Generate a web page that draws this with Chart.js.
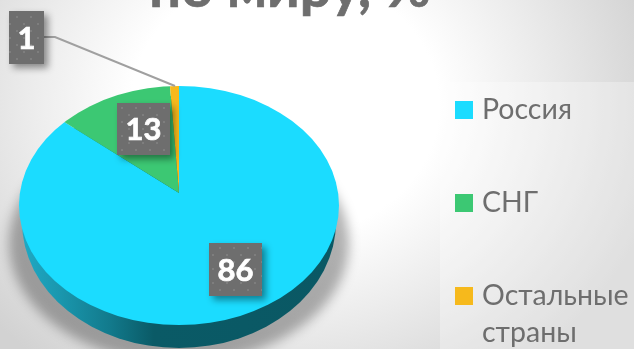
<!DOCTYPE html>
<html lang="ru">
<head>
<meta charset="utf-8">
<title>по миру, %</title>
<script src="https://cdn.jsdelivr.net/npm/chart.js@4"></script>
<style>
    html, body { margin: 0; padding: 0; }
    body {
        position: relative; width: 634px; height: 349px; overflow: hidden;
        font-family: Lato, sans-serif; color: #6e6e6e;
        background: radial-gradient(ellipse 385px 330px at 285px 105px, #fff 40%, #ececec 66%, #d2d2d2 100%);
    }
    canvas { position: absolute; left: 0; top: 0; }
    #title {
        position: absolute; left: 0; width: 580px; top: -49px; text-align: center;
        font-size: 56px; font-weight: 700; line-height: 70px; white-space: nowrap;
        -webkit-text-stroke: 0.7px #6e6e6e;
    }
    #panel { position: absolute; left: 440px; top: 82px; right: 0; bottom: 0; background: rgba(255,255,255,.3); }
    .item { position: absolute; left: 455px; }
    .item i { position: absolute; left: 0; top: 0; width: 18px; height: 18px; }
    .item span { position: absolute; left: 27px; top: -11px; font-size: 28.5px; line-height: 37px; white-space: nowrap; }
</style>
</head>
<body>
<div id="panel"></div>
<div id="title"></div>
<canvas id="chart" width="634" height="349"></canvas>
<div id="legend"></div>
<script>
const titleText = 'по миру, %';
const categories = ['Россия', 'СНГ', 'Остальные\nстраны'];
const values = [86, 13, 1];
const colors = ['#1bdcff', '#3cc873', '#f6b91c'];

// позиции подписей и легенды
const labelBoxes = [[209, 243, 53, 53], [117, 103, 53, 52], [9, 11, 35, 53]];
const legendTops = [101, 194, 287];

const apex = { x: 179, y: 193 };
const squash = 0.747;
const face = { x: 179, y: 205.5, rx: 160, ry: 119.5 };
const base = { x: 179, y: 222, rx: 157, ry: 126 };

document.getElementById('title').textContent = titleText;

const legend = document.getElementById('legend');
categories.forEach((name, i) => {
    const item = document.createElement('div');
    item.className = 'item';
    item.style.top = legendTops[i] + 'px';
    item.innerHTML = `<i style="background:${colors[i]}"></i><span>${name.replace('\n', '<br>')}</span>`;
    legend.appendChild(item);
});

function dotPattern(ctx) {
    const tile = document.createElement('canvas');
    tile.width = 14;
    tile.height = 14;
    const t = tile.getContext('2d');
    t.fillStyle = '#6e6e6e';
    t.fillRect(0, 0, 14, 14);
    t.fillStyle = '#7e7e7e';
    t.fillRect(2, 2, 2, 2);
    t.fillRect(9, 9, 2, 2);
    return ctx.createPattern(tile, 'repeat');
}

// объём круга: тень и боковая стенка, верх обрезается эллипсом
const pie3d = {
    id: 'pie3d',
    beforeDatasetsDraw(chart) {
        const ctx = chart.ctx;
        ctx.save();
        ctx.filter = 'blur(6px)';
        ctx.fillStyle = 'rgba(0,0,0,.3)';
        ctx.beginPath();
        ctx.ellipse(179, 243, 170, 120, 0, 0, Math.PI * 2);
        ctx.fill();
        ctx.restore();

        const side = ctx.createLinearGradient(22, 0, 336, 0);
        side.addColorStop(0, '#1fa9c4');
        side.addColorStop(0.12, '#1a97ae');
        side.addColorStop(0.28, '#127a8c');
        side.addColorStop(0.42, '#0a5a66');
        side.addColorStop(1, '#0a5864');
        ctx.fillStyle = side;
        ctx.beginPath();
        ctx.ellipse(base.x, base.y, base.rx, base.ry, 0, 0, Math.PI * 2);
        ctx.fill();

        ctx.save();
        ctx.beginPath();
        ctx.ellipse(face.x, face.y, face.rx, face.ry, 0, 0, Math.PI * 2);
        ctx.clip();
        ctx.translate(apex.x, apex.y);
        ctx.scale(1, squash);
        ctx.translate(-apex.x, -apex.y);
    },
    afterDatasetsDraw(chart) {
        const ctx = chart.ctx;
        ctx.restore();

        // выноска к сектору 1
        ctx.strokeStyle = '#a0a0a0';
        ctx.lineWidth = 2;
        ctx.beginPath();
        ctx.moveTo(44, 37);
        ctx.lineTo(55, 37);
        ctx.lineTo(175, 86);
        ctx.stroke();

        const pattern = dotPattern(ctx);
        values.forEach((value, i) => {
            const [x, y, w, h] = labelBoxes[i];
            ctx.save();
            ctx.shadowColor = 'rgba(0,0,0,.42)';
            ctx.shadowBlur = 7;
            ctx.shadowOffsetX = 4;
            ctx.shadowOffsetY = 4;
            ctx.fillStyle = pattern;
            ctx.fillRect(x, y, w, h);
            ctx.restore();
            ctx.fillStyle = '#fff';
            ctx.strokeStyle = '#fff';
            ctx.lineWidth = 0.7;
            ctx.font = '700 31px Lato, sans-serif';
            ctx.textAlign = 'center';
            ctx.textBaseline = 'middle';
            ctx.fillText(String(value), x + w / 2, y + h / 2 + 1);
            ctx.strokeText(String(value), x + w / 2, y + h / 2 + 1);
        });
    }
};

new Chart(document.getElementById('chart').getContext('2d'), {
    type: 'pie',
    data: {
        labels: categories,
        datasets: [{
            data: values,
            backgroundColor: colors,
            borderWidth: 0,
            radius: 240
        }]
    },
    options: {
        responsive: false,
        animation: false,
        layout: { padding: { top: 37, right: 276 } },
        plugins: {
            legend: { display: false },
            tooltip: { enabled: false }
        }
    },
    plugins: [pie3d]
});
</script>
</body>
</html>
